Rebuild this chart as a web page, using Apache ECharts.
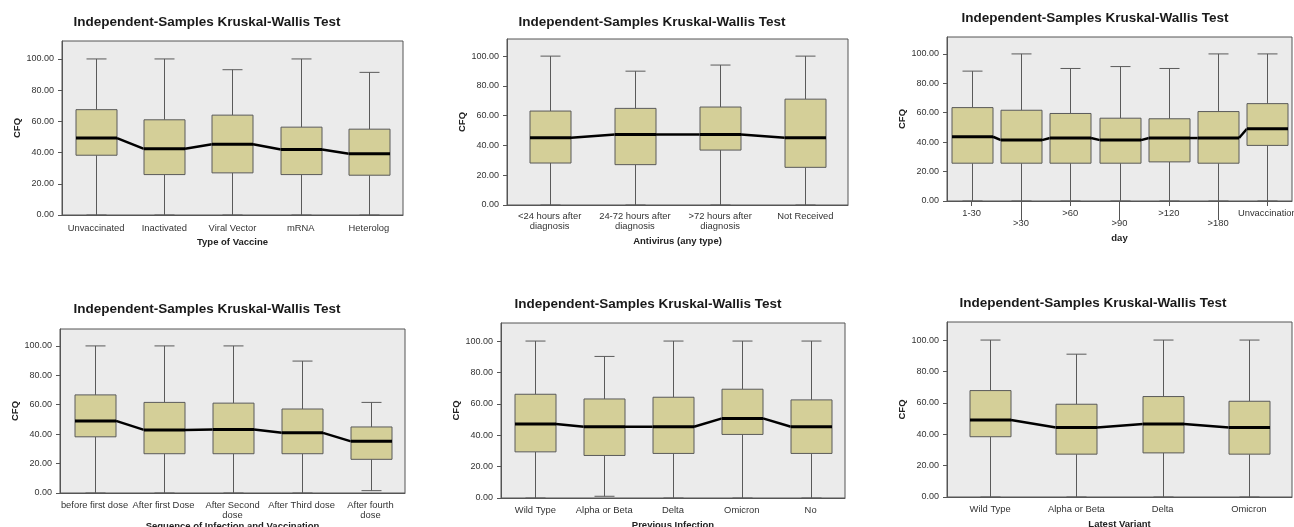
<!DOCTYPE html>
<html><head><meta charset="utf-8">
<script src="https://cdn.jsdelivr.net/npm/echarts@6/dist/echarts.min.js"></script>
<style>html,body{margin:0;padding:0;background:#fff}#c{width:1294px;height:527px}</style>
</head><body><div id="c"></div>
<script>
// ---------- DATA ----------
const yTicks = [0, 20, 40, 60, 80, 100];
const titleText = 'Independent-Samples Kruskal-Wallis Test';
const yName = 'CFQ';

// each box: [lower whisker, Q1, median, Q3, upper whisker]
const vaccineCats = ['Unvaccinated', 'Inactivated', 'Viral Vector', 'mRNA', 'Heterolog'];
const vaccineBoxes = [[0, 38.3, 49.3, 67.5, 100], [0, 25.9, 42.4, 61, 100], [0, 27, 45.4, 64, 93.1], [0, 25.9, 42, 56.3, 100], [0, 25.5, 39.2, 55, 91.4]];

const antiviralCats = ['<24 hours after\ndiagnosis', '24-72 hours after\ndiagnosis', '>72 hours after\ndiagnosis', 'Not Received'];
const antiviralBoxes = [[0, 28.2, 45.2, 63.1, 100], [0, 27.1, 47.4, 64.9, 89.9], [0, 36.9, 47.4, 65.8, 94], [0, 25.3, 45.2, 71.1, 100]];

const dayCats = ['1-30', '>30', '>60', '>90', '>120', '>180', 'Unvaccination'];
const dayBoxes = [[0, 25.7, 43.7, 63.5, 88.3], [0, 25.7, 41.4, 61.7, 100], [0, 25.7, 42.8, 59.5, 90.1], [0, 25.7, 41.4, 56.3, 91.4], [0, 26.6, 42.8, 55.9, 90.1], [0, 25.7, 42.8, 60.8, 100], [0, 37.8, 49.1, 66.2, 100]];

const doseCats = ['before first dose', 'After first Dose', 'After Second\ndose', 'After Third dose', 'After fourth\ndose'];
const doseBoxes = [[0, 38.2, 49, 66.7, 100], [0, 26.7, 42.9, 61.6, 100], [0, 26.7, 43.1, 61.1, 100], [0, 26.7, 40.9, 57.1, 89.7], [1.6, 22.9, 35.1, 44.9, 61.6]];
const doseOutliers = [['After fourth\ndose', 80.9]];

const prevCats = ['Wild Type', 'Alpha or Beta', 'Delta', 'Omicron', 'No'];
const prevBoxes = [[0, 29.4, 47.1, 66.1, 100], [1.1, 27.1, 45.4, 63.1, 90.2], [0, 28.4, 45.4, 64.2, 100], [0, 40.5, 50.7, 69.3, 100], [0, 28.4, 45.4, 62.5, 100]];

const variantCats = ['Wild Type', 'Alpha or Beta', 'Delta', 'Omicron'];
const variantBoxes = [[0, 38.4, 49, 67.8, 100], [0, 27.3, 44.3, 59.1, 91], [0, 28.1, 46.5, 64, 100], [0, 27.3, 44.3, 61, 100]];

const xNames = ['Type of Vaccine', 'Antivirus (any type)', 'day', 'Sequence of Infection and Vaccination', 'Previous Infection', 'Latest Variant'];

// ---------- LAYOUT ----------
const FONT = '"Liberation Sans", Arial, sans-serif';
const panels = [
  { cats: vaccineCats, boxes: vaccineBoxes, grid: { left: 62, top: 41, width: 341, height: 174 }, tx: 207, tt: 15, xGap: 22, yGap: 38.5, lm: 8 },
  { cats: antiviralCats, boxes: antiviralBoxes, grid: { left: 507, top: 39, width: 341, height: 166 }, tx: 652, tt: 15, xGap: 31.5, yGap: 38.5, lm: 6 },
  { cats: dayCats, boxes: dayBoxes, grid: { left: 947, top: 37, width: 345, height: 164 }, tx: 1095, tt: 11, xGap: 32.5, yGap: 37, lm: 7, stagger: true },
  { cats: doseCats, boxes: doseBoxes, grid: { left: 60, top: 329, width: 345, height: 164 }, tx: 207, tt: 302, xGap: 28, yGap: 38.5, lm: 7 },
  { cats: prevCats, boxes: prevBoxes, grid: { left: 501, top: 323, width: 344, height: 175 }, tx: 648, tt: 297, xGap: 22.5, yGap: 39.5, lm: 7 },
  { cats: variantCats, boxes: variantBoxes, grid: { left: 947, top: 322, width: 345, height: 175 }, tx: 1093, tt: 296, xGap: 22.5, yGap: 39.5, lm: 7 }
];

function makeRender(n) {
  return function (params, api) {
    const i = api.value(0);
    const pLow = api.coord([i, api.value(1)]);
    const pQ1 = api.coord([i, api.value(2)]);
    const pMed = api.coord([i, api.value(3)]);
    const pQ3 = api.coord([i, api.value(4)]);
    const pHigh = api.coord([i, api.value(5)]);
    const cx = Math.round(pMed[0]) + 0.5, hw = 20.5, cw = 10;
    const ls = { stroke: '#5a5a5a', lineWidth: 1 };
    const ch = [
      { type: 'line', shape: { x1: cx, y1: pQ3[1], x2: cx, y2: pHigh[1] }, style: ls },
      { type: 'line', shape: { x1: cx - cw, y1: pHigh[1], x2: cx + cw, y2: pHigh[1] }, style: ls },
      { type: 'line', shape: { x1: cx, y1: pQ1[1], x2: cx, y2: pLow[1] }, style: ls },
      { type: 'line', shape: { x1: cx - cw, y1: pLow[1], x2: cx + cw, y2: pLow[1] }, style: ls },
      { type: 'rect', shape: { x: cx - hw, y: pQ3[1], width: 2 * hw, height: pQ1[1] - pQ3[1] }, style: { fill: '#d4cf98', stroke: '#5a5a5a', lineWidth: 1 } },
      { type: 'line', shape: { x1: cx - hw, y1: pMed[1], x2: cx + hw, y2: pMed[1] }, style: { stroke: '#000', lineWidth: 3 } }
    ];
    if (i < n - 1) {
      const pN = api.coord([i + 1, api.value(6)]);
      ch.push({ type: 'line', shape: { x1: cx + hw, y1: pMed[1], x2: Math.round(pN[0]) + 0.5 - hw, y2: pN[1] }, style: { stroke: '#000', lineWidth: 2.5 } });
    }
    return { type: 'group', children: ch };
  };
}

const option = { backgroundColor: '#fff', animation: false, title: [], grid: [], xAxis: [], yAxis: [], series: [] };

panels.forEach((p, k) => {
  const n = p.cats.length;
  option.title.push({ text: titleText, left: p.tx, top: p.tt, textAlign: 'center', padding: 0,
    textStyle: { fontSize: 13.5, fontWeight: 'bold', color: '#1a1a1a', fontFamily: FONT } });
  option.grid.push(Object.assign({ show: true, backgroundColor: '#ebebeb', borderColor: '#555', borderWidth: 1, containLabel: false, outerBoundsMode: 'none' }, p.grid));
  option.xAxis.push({
    type: 'category', gridIndex: k, data: p.cats, position: 'bottom',
    name: xNames[k], nameLocation: 'middle', nameGap: p.xGap,
    nameTextStyle: { fontSize: 9.5, fontWeight: 'bold', color: '#222', fontFamily: FONT },
    axisLine: { show: true, lineStyle: { color: '#555', width: 1 } },
    axisTick: p.stagger ? { show: true, alignWithLabel: true, length: 5, interval: (idx) => idx % 2 === 0, lineStyle: { color: '#555' } } : { show: false },
    axisLabel: { interval: 0, margin: p.lm, fontSize: 9.4, lineHeight: 10, color: '#333', fontFamily: FONT,
      formatter: p.stagger ? (v, idx) => (idx % 2 ? '\n' + v : v) : (v) => v },
    splitLine: { show: false }
  });
  option.yAxis.push({
    type: 'value', gridIndex: k, min: 0, max: 111.5, interval: 20,
    name: yName, nameLocation: 'middle', nameGap: p.yGap, nameRotate: 90,
    nameTextStyle: { fontSize: 9.5, fontWeight: 'bold', color: '#222', fontFamily: FONT },
    axisLine: { show: true, lineStyle: { color: '#555', width: 1 } },
    axisTick: { show: true, length: 4, customValues: yTicks, lineStyle: { color: '#555' } },
    axisLabel: { customValues: yTicks, margin: 8, fontSize: 9, color: '#333', fontFamily: FONT, formatter: (v) => v.toFixed(2) },
    splitLine: { show: false }
  });
  const xi = option.xAxis.length - 1, yi = option.yAxis.length - 1;
  option.series.push({
    type: 'custom', xAxisIndex: xi, yAxisIndex: yi, renderItem: makeRender(n),
    encode: { x: 0, y: [1, 2, 3, 4, 5] },
    data: p.boxes.map((b, i) => [i, b[0], b[1], b[2], b[3], b[4], i < n - 1 ? p.boxes[i + 1][2] : b[2]])
  });
  if (p.stagger) {
    option.xAxis.push({
      type: 'category', gridIndex: k, data: p.cats, position: 'bottom',
      axisLine: { show: false }, axisLabel: { show: false }, splitLine: { show: false },
      axisTick: { show: true, alignWithLabel: true, length: 19, interval: (idx) => idx % 2 === 1, lineStyle: { color: '#555' } }
    });
  }
});

// outlier in dose panel
option.series.push({
  type: 'scatter', xAxisIndex: 3, yAxisIndex: 3, data: doseOutliers,
  symbol: 'emptyCircle', symbolSize: 5, itemStyle: { color: '#fff', borderColor: '#666', borderWidth: 1 }, z: 5
});

echarts.init(document.getElementById('c'), null, { renderer: 'canvas' }).setOption(option);
</script></body></html>
